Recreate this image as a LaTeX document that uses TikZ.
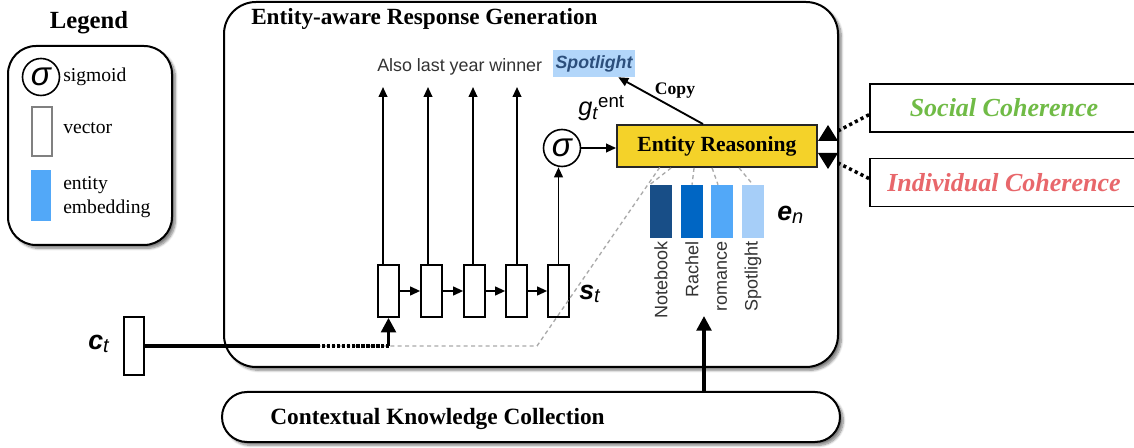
\documentclass[tikz,border=0pt]{standalone}
\usepackage{fontspec}
\setmainfont{Liberation Serif}
\setsansfont{Liberation Sans}
\usetikzlibrary{arrows.meta,shadows.blur,calc}

\definecolor{reasonfill}{RGB}{244,210,41}
\definecolor{embA}{RGB}{24,78,135}
\definecolor{embB}{RGB}{0,102,196}
\definecolor{embC}{RGB}{82,168,248}
\definecolor{embD}{RGB}{166,206,248}
\definecolor{copyfill}{RGB}{178,214,250}
\definecolor{copytext}{RGB}{44,79,124}
\definecolor{txtgray}{RGB}{51,51,51}
\definecolor{socialgreen}{RGB}{112,187,70}
\definecolor{indivred}{RGB}{232,103,107}
\definecolor{linkgray}{RGB}{170,170,170}

\newcommand{\fs}[1]{\fontsize{#1}{#1}\selectfont}
\newcommand{\sigmark}{{\sffamily\itshape\fs{25}σ}}

\begin{document}
\begin{tikzpicture}[x=0.75pt,y=-0.75pt,
  panel/.style={draw, line width=1.5pt, fill=white, inner sep=0pt,
    blur shadow={shadow xshift=2.5pt, shadow yshift=-2.5pt, shadow blur steps=8, shadow opacity=50}},
  cell/.style={draw, line width=1.2pt, fill=white, minimum width=15.75pt, minimum height=39pt, inner sep=0pt},
  bar/.style={minimum width=16.5pt, minimum height=39.75pt, inner sep=0pt},
  flow/.style={line width=1.4pt, -{Triangle[length=7.5pt,width=6.5pt]}},
  bigflow/.style={line width=2.6pt, -{Triangle[length=11pt,width=11pt]}},
  gate/.style={circle, draw, line width=1.2pt, minimum size=27.75pt, inner sep=0pt},
  link/.style={draw=linkgray, line width=1pt, dash pattern=on 3pt off 2.5pt},
  cohbox/.style={draw, line width=1.4pt, fill=white, minimum width=201pt, minimum height=36pt, inner sep=0pt,
    font=\bfseries\itshape\fs{19.5}},
  dotlink/.style={line width=2.6pt, dash pattern=on 2.4pt off 2.4pt},
  ename/.style={rotate=90, anchor=east, inner sep=1pt, text=txtgray, font=\sffamily\fs{13.5}},
  sym/.style={inner sep=0pt, anchor=base west}
]
\useasboundingbox (0,0) rectangle (1134,448);

% ---------- legend ----------
\node[panel, rounded corners=21pt, minimum width=123pt, minimum height=149.25pt] (legend) at (90,145.5) {};
\node[anchor=base, inner sep=0pt, font=\bfseries\fs{18.5}] (legendtitle) at (89,29) {Legend};
\node[gate] (lsig) at (41,77) {\sigmark};
\node[sym, font=\fs{14.7}] (lsigtxt) at (63,82) {sigmoid};
\node[draw=gray, line width=1.2pt, minimum width=15pt, minimum height=36.75pt, inner sep=0pt] (lvec) at (42,131.5) {};
\node[sym, font=\fs{14.7}] (lvectxt) at (63,134) {vector};
\node[fill=embC, minimum width=15pt, minimum height=38.25pt, inner sep=0pt] (lemb) at (41,195.5) {};
\node[sym, font=\fs{14.7}] (lembtxt1) at (63,190) {entity};
\node[sym, font=\fs{14.7}] (lembtxt2) at (63,214) {embedding};

% ---------- knowledge collection ----------
\node[panel, rounded corners=18.75pt, minimum width=463.5pt, minimum height=37.5pt] (ckc) at (531,417) {};
\node[sym, font=\bfseries\fs{17.5}] (ckctxt) at (270,425) {Contextual Knowledge Collection};

% ---------- response generation panel ----------
\node[panel, rounded corners=24pt, minimum width=460.5pt, minimum height=273.75pt] (gen) at (531,184.5) {};
\node[sym, font=\bfseries\fs{17.4}] (gentitle) at (251,25) {Entity-aware Response Generation};

% decoder states
\node[cell] (c1) at (388.5,291) {};
\node[cell] (c2) at (431.5,291) {};
\node[cell] (c3) at (474.5,291) {};
\node[cell] (c4) at (516.5,291) {};
\node[cell] (c5) at (558.5,291) {};
\foreach \a/\b in {c1/c2,c2/c3,c3/c4,c4/c5}
  \draw[flow] (\a.east) -- (\b.west);

% output words
\node[sym, text=txtgray, font=\sffamily\fs{13.4}] (words) at (377,72) {Also last year winner};
\node[fill=copyfill, minimum width=61.5pt, minimum height=20.25pt, inner sep=0pt,
      text=copytext, font=\sffamily\bfseries\itshape\fs{13.3}] (spot) at (594,63.5) {Spotlight};
\foreach \c/\x in {c1/383,c2/428,c3/473,c4/517}{
  \coordinate (o\c) at (\x,87);
  \draw[flow] (\c.north -| o\c) -- (o\c);
}

% gate and entity reasoning
\node[gate] (gsig) at (562,148) {\sigmark};
\draw[flow] (c5.north) -- (c5.north |- gsig.south);
\node[draw=black!85, line width=1.4pt, fill=reasonfill, minimum width=150pt, minimum height=31.5pt,
      inner sep=0pt, font=\bfseries\fs{16.2}] (er) at (717,146) {Entity Reasoning};
\draw[flow] (gsig.east) -- (er.west |- gsig.east);
\node[sym, font=\sffamily\fs{19}] (gate lbl) at (578,116)
  {\textit{g}\raisebox{-3pt}{\fs{14}\textit{t}}\raisebox{6pt}{\fs{14}ent}};

% copy mechanism
\draw[flow] ([xshift=-10.5pt]er.north) -- ([xshift=-12.75pt]spot.south east);
\node[anchor=base, inner sep=0pt, font=\bfseries\fs{13.2}] (copylbl) at (675,95) {Copy};

% entity embeddings
\node[bar, fill=embA] (nb) at (661,211.5) {};
\node[bar, fill=embB] (ra) at (692,211.5) {};
\node[bar, fill=embC] (ro) at (722,211.5) {};
\node[bar, fill=embD] (sp) at (753,211.5) {};
\node[ename] (nbtxt) at ([yshift=-1pt]nb.south) {Notebook};
\node[ename] (ratxt) at ([yshift=-1pt]ra.south) {Rachel};
\node[ename] (rotxt) at ([yshift=-1pt]ro.south) {romance};
\node[ename] (sptxt) at ([yshift=-1pt]sp.south) {Spotlight};
\node[sym, font=\sffamily\fs{20}] (enlbl) at (777,221)
  {\textbf{\textit{e}}\raisebox{-2pt}{\fs{15}\textit{n}}};
\node[sym, font=\sffamily\fs{20}] (stlbl) at (579,300)
  {\textbf{\textit{s}}\raisebox{-2pt}{\fs{15}\textit{t}}};

% attention links to the entities
\coordinate (ctjoin) at (317,346);
\coordinate (ctcorner) at (537,346);
\coordinate (erA) at (660,167);
\draw[link] (ctjoin) -- (ctcorner) -- (erA);
\draw[link] ([xshift=41.25pt]er.south west) -- (nb.north west);
\draw[link] ([xshift=58.5pt]er.south west) -- (ra.north);
\draw[link] ([xshift=72pt]er.south west) -- ([xshift=-3pt]ro.north);
\draw[link] ([xshift=92.25pt]er.south west) -- (sp.north);

% context vector input
\node[draw, line width=1.2pt, fill=white, minimum width=15pt, minimum height=43.5pt, inner sep=0pt] (ct) at (134,346) {};
\node[sym, font=\sffamily\fs{20}] (ctlbl) at (88,350)
  {\textbf{\textit{c}}\raisebox{-2pt}{\fs{15}\textit{t}}};
\draw[line width=2.6pt] (ct.east) -- (ctjoin);
\draw[line width=2.6pt, dash pattern=on 2.5pt off 1.2pt] (ctjoin) -- (c1.south |- ctjoin);
\draw[bigflow] (c1.south |- ctjoin) -- (c1.south);

% knowledge into the entity embeddings
\coordinate (kin) at (704,316);
\draw[bigflow] (ckc.north -| kin) -- (kin);

% coherence signals
\node[cohbox, text=socialgreen] (soc) at (1004,108) {Social Coherence};
\node[cohbox, text=indivred] (ind) at (1004,182.5) {Individual Coherence};
\coordinate (socend) at (836,132);
\coordinate (indend) at (836,162);
\draw[dotlink] ([yshift=-5pt]soc.west) -- (socend);
\draw[dotlink] ([yshift=3pt]ind.west) -- (indend);
\fill (828,125) -- (838,141) -- (818,141) -- cycle;
\fill (828,169) -- (838,153) -- (818,153) -- cycle;
\end{tikzpicture}
\end{document}
